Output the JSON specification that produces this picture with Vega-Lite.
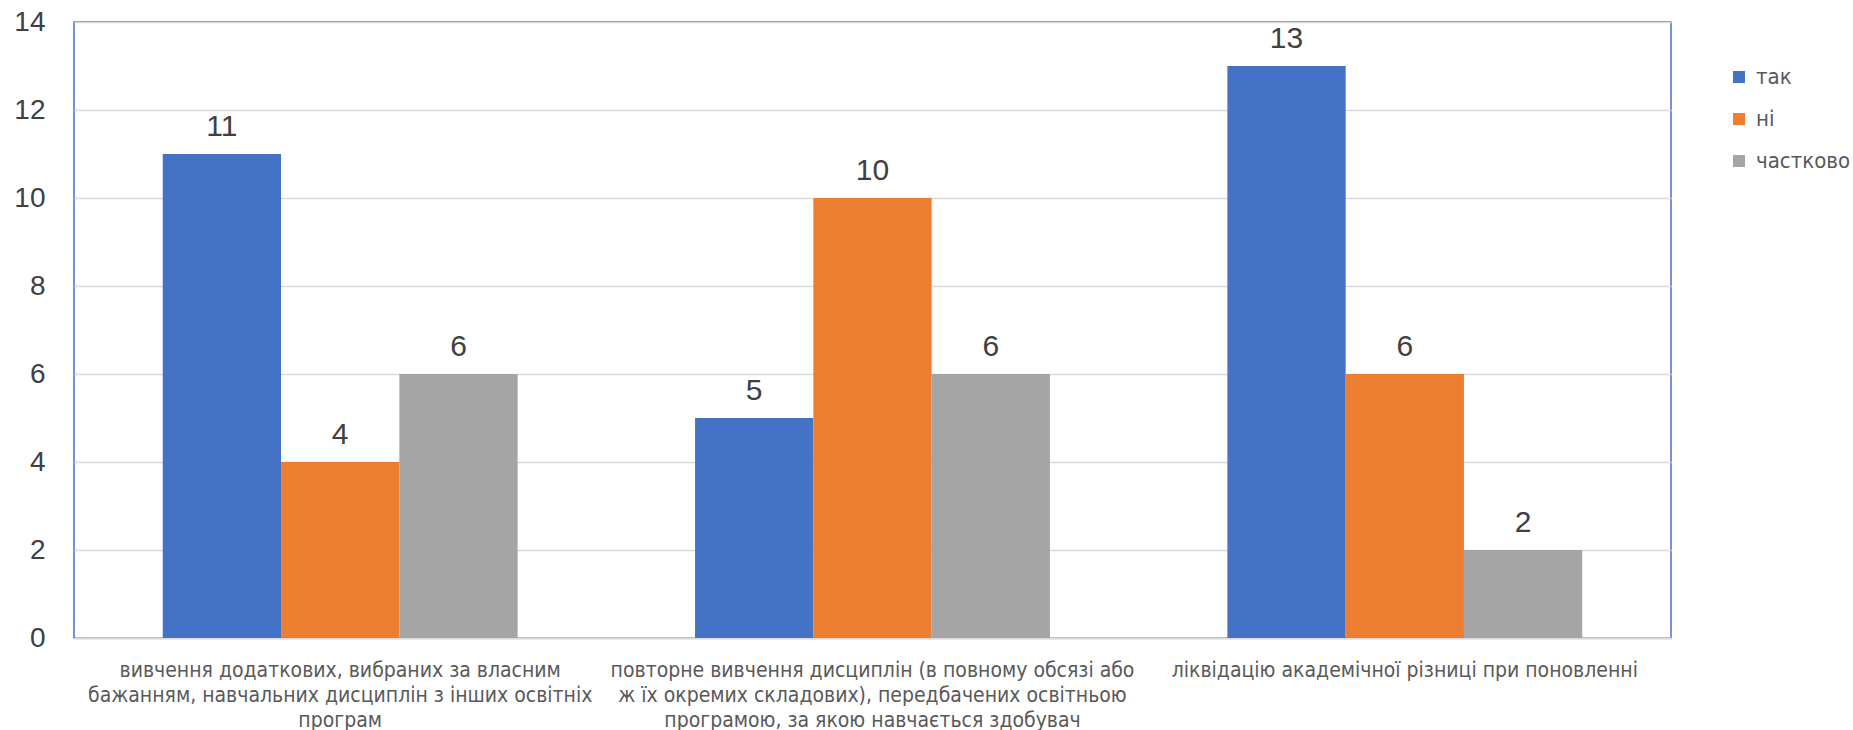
{
  "$schema": "https://vega.github.io/schema/vega-lite/v6.json",
  "autosize": {"type": "none"},
  "padding": {"left": 74, "top": 22, "right": 182, "bottom": 92},
  "width": 1597,
  "height": 616,
  "background": "white",
  "config": {
    "view": {"stroke": "#4472C4", "strokeWidth": 1.5},
    "font": "Liberation Sans"
  },
  "data": {
    "values": [
      {"cat": "вивчення додаткових, вибраних за власним|бажанням, навчальних дисциплін з інших освітніх|програм", "answer": "так", "value": 11},
      {"cat": "вивчення додаткових, вибраних за власним|бажанням, навчальних дисциплін з інших освітніх|програм", "answer": "ні", "value": 4},
      {"cat": "вивчення додаткових, вибраних за власним|бажанням, навчальних дисциплін з інших освітніх|програм", "answer": "частково", "value": 6},
      {"cat": "повторне вивчення дисциплін (в повному обсязі або|ж їх окремих складових), передбачених освітньою|програмою, за якою навчається здобувач", "answer": "так", "value": 5},
      {"cat": "повторне вивчення дисциплін (в повному обсязі або|ж їх окремих складових), передбачених освітньою|програмою, за якою навчається здобувач", "answer": "ні", "value": 10},
      {"cat": "повторне вивчення дисциплін (в повному обсязі або|ж їх окремих складових), передбачених освітньою|програмою, за якою навчається здобувач", "answer": "частково", "value": 6},
      {"cat": "ліквідацію академічної різниці при поновленні", "answer": "так", "value": 13},
      {"cat": "ліквідацію академічної різниці при поновленні", "answer": "ні", "value": 6},
      {"cat": "ліквідацію академічної різниці при поновленні", "answer": "частково", "value": 2}
    ]
  },
  "encoding": {
    "x": {
      "field": "cat", "type": "nominal", "sort": null,
      "scale": {"paddingInner": 0.3333, "paddingOuter": 0.1667},
      "axis": {
        "title": null, "labelAngle": 0, "ticks": false,
        "domainColor": "#D9D9D9", "domainWidth": 2,
        "labelExpr": "split(datum.label, '|')",
        "labelFont": "DejaVu Sans Condensed", "labelFontSize": 21,
        "labelColor": "#595959", "labelLineHeight": 25, "labelPadding": 21,
        "labelLimit": 600
      }
    },
    "xOffset": {"field": "answer", "type": "nominal", "sort": ["так", "ні", "частково"], "scale": {"paddingInner": 0, "paddingOuter": 0}},
    "y": {
      "field": "value", "type": "quantitative",
      "scale": {"domain": [0, 14], "nice": false},
      "axis": {
        "title": null, "values": [0, 2, 4, 6, 8, 10, 12, 14], "domain": false, "ticks": false,
        "gridColor": "#D9D9D9", "gridWidth": 1.5,
        "labelFontSize": 28, "labelColor": "#404040", "labelPadding": 29
      }
    }
  },
  "layer": [
    {
      "mark": {"type": "bar"},
      "encoding": {
        "color": {
          "field": "answer", "type": "nominal", "sort": ["так", "ні", "частково"],
          "scale": {"domain": ["так", "ні", "частково"], "range": ["#4472C4", "#ED7D31", "#A5A5A5"]},
          "legend": {
            "title": null, "orient": "none", "legendX": 1654, "legendY": 44,
            "symbolType": "square", "symbolSize": 144, "symbolStrokeWidth": 0,
            "labelFont": "DejaVu Sans Condensed", "labelFontSize": 22, "labelColor": "#595959",
            "labelOffset": 6, "rowPadding": 20, "padding": 0
          }
        }
      }
    },
    {
      "mark": {"type": "text", "baseline": "alphabetic", "dy": -18, "fontSize": 30, "color": "#404040", "font": "Liberation Sans"},
      "encoding": {"text": {"field": "value", "type": "quantitative"}}
    }
  ]
}
